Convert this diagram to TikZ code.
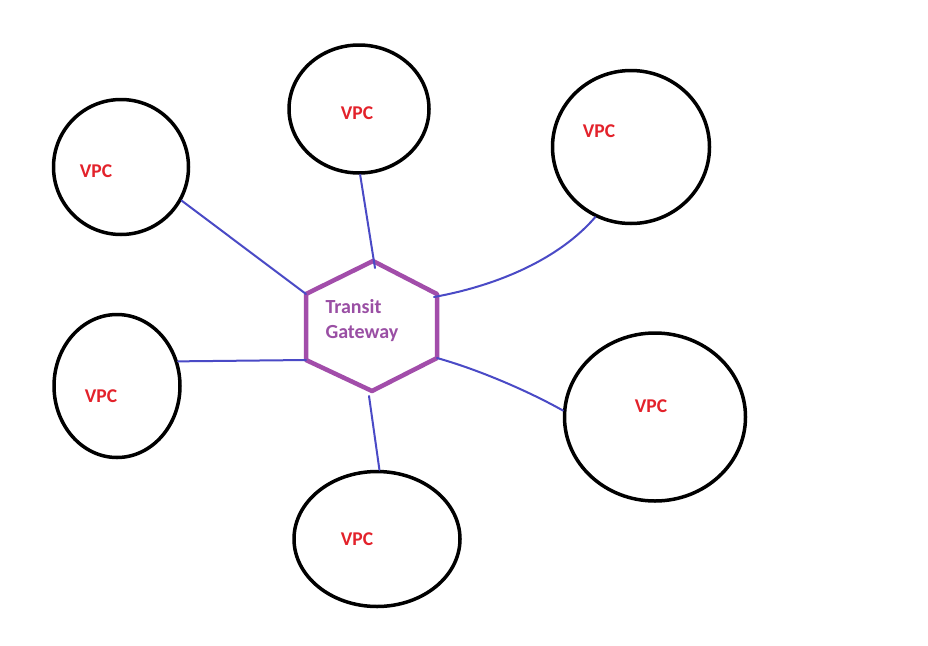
\documentclass[tikz,border=0pt]{standalone}
\usepackage{fontspec}
\setmainfont{Carlito}
\usepackage{xcolor}
\usepackage{tikz}
\usetikzlibrary{calc,shapes.geometric}
\definecolor{ink}{HTML}{000000}
\definecolor{hub}{HTML}{A24DAA}
\definecolor{hubtext}{HTML}{9A4FA4}
\definecolor{link}{HTML}{4A4AC6}
\definecolor{vpcred}{HTML}{E3222B}
\tikzset{
  vpc/.style={draw=ink, ellipse, line width=3.5pt, inner sep=0pt},
  vpclab/.style={text=vpcred, font=\fontsize{19.5}{22}\selectfont\bfseries},
  tgw/.style={draw=hub, line width=4.5pt, line join=round},
  tgwlab/.style={text=hubtext, font=\fontsize{20}{25}\selectfont\bfseries, align=left, anchor=west},
  wire/.style={draw=link, line width=2pt, line cap=round},
}
\begin{document}
\begin{tikzpicture}[x=1pt,y=-1pt]
  \useasboundingbox[fill=white] (0,0) rectangle (928,645);

  % hexagon corners
  \coordinate (T) at (373,261);
  \coordinate (UR) at (437,294);
  \coordinate (LR) at (437,358);
  \coordinate (B) at (372,391);
  \coordinate (LL) at (306,360);
  \coordinate (UL) at (306,294);
  \draw[tgw] (T)--(UR)--(LR)--(B)--(LL)--(UL)--cycle;
  \node[tgwlab] (gw) at (322,321) {Transit\\Gateway};

  % the six VPCs
  \node[vpc,minimum width=135pt,minimum height=135pt] (v1) at (121,167) {};
  \node[vpc,minimum width=140pt,minimum height=128pt] (v2) at (359,109) {};
  \node[vpc,minimum width=157pt,minimum height=153pt] (v3) at (631,147) {};
  \node[vpc,minimum width=126pt,minimum height=143pt] (v4) at (117,386) {};
  \node[vpc,minimum width=166pt,minimum height=135pt] (v5) at (377,539) {};
  \node[vpc,minimum width=181pt,minimum height=168pt] (v6) at (655,417) {};

  \node[vpclab] (l1) at (96,171) {VPC};
  \node[vpclab] (l2) at (357,113) {VPC};
  \node[vpclab] (l3) at (599,131) {VPC};
  \node[vpclab] (l4) at (101,396) {VPC};
  \node[vpclab] (l5) at (357,539) {VPC};
  \node[vpclab] (l6) at (651,406) {VPC};

  % attachments
  \draw[wire] (v1.-29)--(UL);
  \draw[wire] (v2.-89)--($(T)+(2,7)$);
  \draw[wire] (v3.-117) .. controls (560,258) and (500,285) .. ($(UR)+(-3,3)$);
  \draw[wire] (v4.22)--(LL);
  \draw[wire] (v5.88)--($(B)+(-3,5)$);
  \draw[wire] (v6.176) .. controls (530,392) and (480,370) .. (LR);
\end{tikzpicture}
\end{document}
